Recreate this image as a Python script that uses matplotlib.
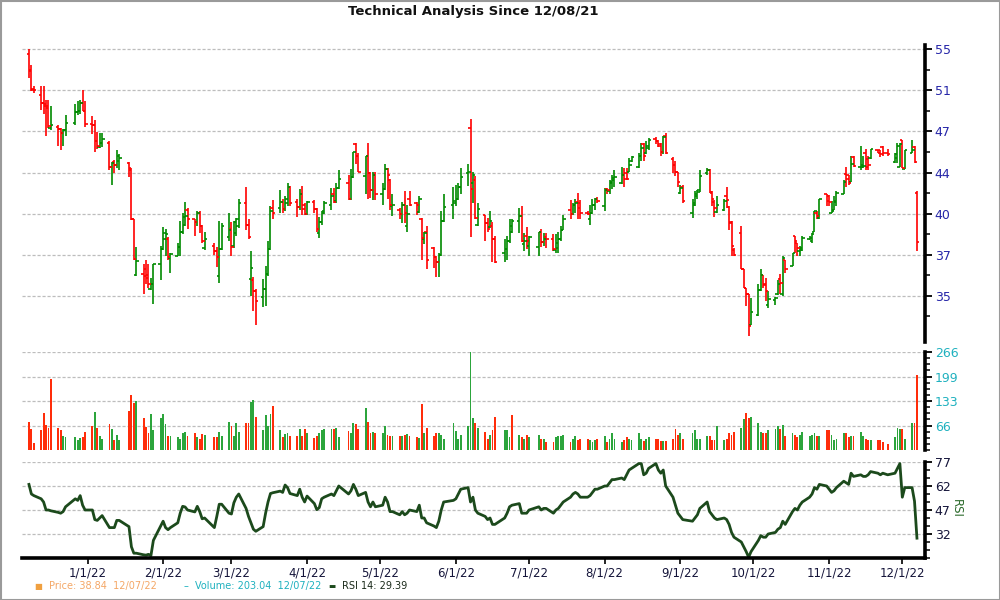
import matplotlib
matplotlib.use("Agg")
import matplotlib.pyplot as plt
import matplotlib.dates as mdates
from matplotlib.ticker import FixedLocator, NullFormatter, FixedFormatter
from matplotlib.patches import Rectangle
import numpy as np
import pandas as pd

title = "Technical Analysis Since 12/08/21"
start_date = "2021-12-08"
end_date = "2022-12-07"
last_date_label = "12/07/22"
holidays = ["2021-12-24", "2022-01-17", "2022-02-21", "2022-04-15", "2022-05-30",
            "2022-06-20", "2022-07-04", "2022-09-05", "2022-11-24"]

opens = [
    54.8, 53.2, 51.4, 50.8, 50.1, 50.0, 49.65, 47.85, 47.95, 47.8, 47.45, 47.7, 48.3, 49.25, 49.35, 50.1, 49.35,
    48.2, 48.15, 46.75, 46.25, 46.55, 46.6, 44.6, 44.95, 44.75, 45.1, 44.9, 44.35, 40.5, 36.6, 36.65, 36.95, 36.35, 35.65, 35.95, 37.3,
    38.35, 39.05, 39.05, 37.75, 37.9, 38.5, 39.55, 40.1, 41.2, 40.5, 40.3, 40.95, 40.0, 38.45, 38.6, 38.2, 36.5, 38.35, 39.2,
    39.8, 38.55, 39.5, 40.0, 41.75, 40.1, 36.3, 36.25, 35.55, 35.1, 35.65, 36.65, 38.35, 41.35, 41.35, 41.8, 41.3, 41.75, 43.0, 41.8, 41.4, 42.45, 41.6,
    40.9, 41.8, 41.3, 39.5, 40.3, 41.1, 41.6, 42.45, 41.85, 42.9, 43.3, 42.05, 43.75, 46.5, 45.45, 43.8, 45.45, 44.1, 42.75, 43.95,
    42.4, 42.8, 44.4, 43.55, 41.5, 41.2, 40.9, 41.55, 40.0, 42.0, 41.7, 41.05, 40.5, 39.05, 39.55, 38.45, 37.8, 37.45, 37.95, 40.35, 41.6,
    41.75, 42.05, 43.0, 44.1, 47.85, 43.3, 43.55, 40.1, 40.8, 40.25, 39.95, 40.0, 39.05, 38.1, 38.35, 38.9, 39.6, 40.35, 40.75, 38.7, 39.25,
    38.55, 38.5, 39.55, 38.85, 39.2, 39.05, 38.3, 38.45, 39.05, 39.75, 41.2, 40.9, 41.55, 41.8, 41.75, 41.0, 40.5, 40.95, 41.6, 42.05,
    41.5, 42.8, 42.65, 43.3, 43.55, 43.3, 43.95, 44.1, 44.2, 45.05, 44.6, 45.45, 46.45, 45.7, 46.15, 46.9, 46.7, 46.35, 45.8, 47.15, 45.25, 44.75, 44.15,
    42.5, 43.0, 41.0, 41.6, 42.3, 42.6, 44.05, 44.3, 42.5, 41.8, 41.05, 41.2, 42.3, 41.45, 40.3, 38.3, 39.5, 36.95, 35.7, 35.3, 33.4,
    34.0, 35.6, 36.6, 35.95, 34.6, 34.95, 35.3, 36.3, 35.3, 37.6, 37.2, 39.25, 38.8, 38.2, 38.3, 39.05, 38.9, 39.6, 41.0, 40.6, 42.4,
    42.3, 41.0, 41.2, 41.9, 42.45, 44.0, 43.9, 43.4, 45.4, 44.6, 44.55, 45.7, 45.2, 45.3, 46.0, 45.95, 46.2, 45.75, 45.0, 45.3, 44.6,
    46.85, 44.4, 45.7, 46.25, 42.5,
]
highs = [
    55.3, 53.7, 51.65, 51.65, 51.7, 50.4, 50.35, 49.8, 48.15, 47.9, 47.8, 49.05, 50.05, 50.25, 50.4, 51.35, 50.25,
    48.95, 48.6, 47.55, 47.45, 47.4, 46.7, 44.95, 45.15, 46.0, 45.6, 44.95, 44.5, 40.55, 38.5, 37.35, 37.6, 37.3, 36.4, 37.35, 38.6,
    39.95, 39.8, 39.2, 38.1, 38.8, 40.35, 41.0, 41.8, 41.35, 40.55, 41.15, 41.1, 40.1, 39.55, 38.75, 38.5, 40.35, 40.25, 40.95,
    40.3, 40.35, 40.6, 42.05, 43.0, 40.5, 38.2, 36.45, 35.65, 36.3, 37.15, 38.9, 41.5, 41.95, 42.75, 42.0, 42.3, 43.3, 43.05, 42.0, 42.8, 43.05, 41.7,
    41.85, 41.95, 41.35, 40.7, 41.1, 41.85, 42.9, 42.9, 43.3, 44.35, 43.95, 44.4, 45.85, 46.55, 45.7, 45.5, 46.55, 44.2, 44.15, 44.15,
    43.3, 44.85, 44.5, 43.6, 42.4, 41.35, 41.8, 42.65, 41.6, 42.65, 41.8, 42.3, 40.6, 39.6, 40.0, 38.5, 37.9, 38.1, 41.1, 42.45, 43.0,
    43.15, 43.3, 44.5, 44.85, 48.7, 44.2, 43.8, 41.7, 40.85, 40.6, 41.1, 40.3, 39.25, 39.1, 39.25, 40.55, 40.5, 41.35, 41.5, 39.5, 39.95,
    39.25, 39.6, 39.8, 39.5, 39.5, 39.4, 39.45, 39.55, 40.0, 40.8, 41.95, 41.75, 42.0, 42.5, 41.95, 41.15, 41.6, 42.0, 42.1, 42.2,
    42.9, 42.9, 43.55, 43.95, 44.35, 44.6, 44.5, 44.5, 45.3, 45.5, 45.7, 46.55, 46.55, 46.7, 47.0, 47.1, 46.85, 46.55, 47.2, 47.45, 45.4, 45.05, 44.2,
    43.15, 43.15, 42.05, 42.65, 42.75, 44.35, 44.5, 44.4, 42.65, 41.95, 42.25, 42.0, 43.0, 41.5, 40.35, 38.45, 40.0, 36.95, 35.7, 35.3, 35.05,
    36.0, 36.95, 36.6, 36.35, 35.55, 35.1, 36.25, 36.65, 37.85, 37.6, 38.1, 39.25, 38.8, 38.55, 39.25, 39.3, 39.5, 41.1, 41.1, 42.05, 42.4,
    42.35, 41.85, 42.25, 42.65, 43.55, 44.6, 43.95, 45.45, 45.45, 46.35, 45.45, 46.1, 45.45, 46.1, 46.0, 46.0, 46.3, 46.05, 45.7, 46.6, 46.6,
    46.85, 46.0, 46.8, 46.3, 42.65,
]
lows = [
    52.5, 51.2, 51.0, 49.5, 49.1, 47.2, 47.85, 47.7, 46.3, 45.95, 46.35, 47.15, 48.15, 49.05, 49.1, 49.35, 47.95,
    47.35, 45.85, 46.05, 46.15, 46.25, 44.35, 43.1, 44.1, 44.5, 44.35, 43.75, 40.45, 37.6, 36.5, 35.3, 35.95, 35.7, 35.6, 34.7, 36.25,
    38.3, 37.85, 37.6, 36.7, 37.85, 37.9, 39.45, 40.0, 39.8, 39.25, 40.0, 39.5, 38.8, 38.3, 37.95, 37.1, 36.05, 38.3, 38.9,
    37.9, 38.45, 39.25, 39.85, 39.75, 39.05, 35.2, 34.25, 33.35, 34.5, 34.55, 36.5, 38.3, 40.5, 40.95, 40.95, 41.1, 41.5, 41.5, 40.7, 41.2, 40.85, 40.8,
    40.85, 40.95, 39.55, 39.15, 40.1, 40.9, 41.2, 41.7, 41.75, 42.8, 41.95, 41.95, 43.7, 44.85, 44.15, 42.45, 42.05, 42.1, 41.95, 41.95,
    41.6, 42.7, 42.0, 41.2, 40.75, 40.55, 40.2, 40.25, 39.6, 41.5, 40.8, 40.95, 37.6, 38.7, 36.95, 37.05, 36.45, 36.45, 37.9, 40.3, 40.5,
    41.5, 41.95, 42.4, 43.05, 39.2, 41.75, 40.5, 40.0, 38.95, 39.6, 39.85, 37.45, 37.4, 37.45, 37.6, 38.8, 39.5, 39.5, 38.85, 38.2, 38.35,
    37.85, 37.9, 38.5, 38.55, 38.45, 38.2, 38.1, 38.1, 38.9, 39.7, 40.5, 40.85, 41.0, 40.5, 40.5, 40.85, 40.1, 40.9, 41.2, 41.75,
    41.15, 42.4, 42.4, 42.8, 43.0, 43.2, 43.0, 43.55, 44.15, 44.95, 44.5, 45.05, 45.1, 45.65, 46.0, 46.5, 46.25, 45.45, 45.65, 45.65, 44.1, 43.8, 43.0,
    42.4, 41.75, 40.6, 41.5, 42.0, 42.55, 43.95, 42.5, 41.5, 40.7, 40.95, 41.1, 41.35, 39.75, 37.85, 37.85, 36.95, 35.7, 34.55, 32.7, 33.35,
    33.9, 35.55, 35.7, 34.9, 34.45, 34.6, 35.25, 35.35, 35.2, 36.7, 37.15, 38.05, 37.85, 37.85, 38.25, 39.0, 38.8, 39.55, 40.5, 40.5, 41.5,
    41.5, 40.95, 41.2, 41.5, 42.4, 43.0, 43.15, 43.35, 44.6, 44.35, 44.5, 44.35, 44.35, 45.2, 45.7, 45.4, 45.45, 45.5, 44.9, 44.9, 44.6,
    44.45, 44.4, 45.7, 44.9, 38.2,
]
closes = [
    53.1, 51.3, 51.3, 50.1, 49.8, 49.8, 48.0, 48.15, 47.8, 47.4, 47.7, 48.3, 49.25, 49.35, 50.1, 49.35, 48.2,
    48.15, 46.75, 46.3, 46.55, 46.9, 44.6, 44.9, 44.75, 45.45, 45.3, 44.5, 40.5, 37.65, 37.5, 36.5, 36.55, 35.95, 35.95, 37.3, 38.35,
    39.5, 39.45, 37.8, 38.0, 38.5, 39.55, 40.7, 40.75, 40.5, 40.3, 40.95, 40.0, 38.9, 39.05, 38.2, 37.8, 38.35, 40.0, 39.75,
    38.5, 40.3, 40.5, 41.75, 40.1, 39.2, 37.05, 35.55, 34.9, 35.65, 36.65, 38.35, 41.1, 40.95, 41.8, 41.3, 42.05, 43.0, 41.75, 41.4, 42.45, 41.3, 40.9,
    41.8, 41.3, 39.8, 40.3, 40.95, 41.75, 42.25, 41.8, 42.9, 43.6, 42.05, 43.75, 45.8, 45.45, 44.2, 45.45, 44.1, 42.7, 43.95, 42.4,
    42.8, 44.4, 43.95, 41.6, 41.55, 40.9, 41.55, 40.95, 40.9, 41.55, 41.55, 42.05, 39.15, 39.5, 37.6, 37.8, 37.45, 37.95, 40.35, 41.45, 41.85,
    42.05, 43.0, 43.75, 44.2, 42.8, 43.95, 40.6, 41.25, 40.25, 39.8, 40.35, 39.05, 37.45, 38.35, 38.9, 40.0, 40.35, 40.75, 38.95, 38.95, 38.9,
    39.2, 39.55, 38.85, 39.05, 39.05, 38.35, 38.8, 39.05, 39.7, 40.5, 40.9, 41.55, 41.75, 41.35, 40.95, 40.9, 40.95, 41.6, 42.0, 41.9,
    42.7, 42.7, 43.4, 43.65, 43.75, 43.95, 43.6, 43.6, 44.75, 45.4, 45.45, 46.15, 45.5, 46.35, 46.85, 46.7, 46.5, 45.85, 47.1, 45.7, 44.75, 44.2, 43.4,
    42.9, 41.85, 41.75, 42.45, 42.75, 43.8, 44.3, 42.6, 42.0, 41.35, 41.6, 41.85, 41.95, 40.2, 38.55, 37.95, 36.95, 35.7, 35.3, 33.3, 34.15,
    35.6, 36.55, 35.9, 35.5, 35.0, 35.05, 35.95, 36.05, 37.75, 36.95, 38.05, 38.9, 38.4, 38.45, 39.15, 39.15, 39.4, 41.1, 40.75, 42.0, 41.9,
    41.8, 41.15, 41.8, 42.5, 43.4, 43.6, 43.3, 44.85, 44.65, 44.7, 44.62, 44.6, 44.75, 46.05, 45.72, 45.6, 45.72, 45.6, 45.6, 46.3, 46.5,
    44.5, 46.0, 46.0, 44.95, 38.84,
]
volumes = [
    77, 56, 20, 54, 101, 67, 61, 193, 59, 54, 37, 34, 34, 27, 32, 34, 50,
    65, 104, 61, 37, 31, 70, 56, 28, 40, 26, 107, 150, 128, 134, 88, 62, 45, 97, 55, 86,
    97, 70, 38, 37, 34, 31, 45, 50, 37, 45, 34, 30, 43, 40, 34, 34, 50, 38, 77,
    64, 37, 74, 50, 72, 72, 129, 137, 89, 53, 95, 65, 97, 120, 54, 34, 43, 47, 37, 37, 58, 37, 56,
    45, 33, 37, 47, 53, 56, 56, 56, 61, 34, 52, 47, 74, 70, 58, 115, 77, 45, 50, 45,
    45, 66, 42, 39, 39, 37, 37, 40, 43, 37, 34, 32, 125, 47, 61, 37, 45, 45, 42, 31, 72,
    52, 29, 40, 65, 265, 88, 72, 61, 50, 29, 41, 53, 90, 53, 53, 34, 94, 42, 35, 29, 42,
    34, 42, 31, 31, 23, 23, 34, 39, 39, 42, 23, 31, 39, 26, 31, 29, 26, 23, 26, 29,
    37, 23, 29, 47, 29, 23, 26, 34, 31, 26, 45, 29, 25, 29, 34, 31, 31, 25, 25, 25, 29, 56, 42,
    45, 31, 45, 53, 31, 30, 37, 37, 26, 26, 66, 26, 29, 45, 42, 50, 61, 85, 101, 88, 90,
    74, 50, 47, 45, 53, 58, 66, 58, 69, 39, 47, 42, 34, 42, 50, 37, 42, 47, 37, 39, 53,
    53, 42, 26, 31, 45, 45, 34, 39, 39, 50, 37, 31, 26, 26, 26, 26, 23, 15, 34, 61, 56,
    56, 30, 74, 72, 203.04,
]
volume_up_dates = ["2022-01-04", "2022-01-21", "2022-03-10", "2022-04-25", "2022-06-07",
                   "2022-09-26", "2022-09-27"]
volume_down_dates = ["2021-12-14", "2021-12-17", "2022-03-18", "2022-05-18", "2022-06-17",
                     "2022-06-24", "2022-09-28", "2022-09-29"]
rsi = [
    63, 57, 56, 54, 52, 47, 47, 46.5, 45.5, 45, 46, 49, 54, 53, 56, 50, 47,
    47, 41, 40.5, 42, 43.5, 36, 36, 36, 40.5, 40.5, 36.6, 24, 20, 20, 19, 18.8, 19.3, 18.5, 28, 37,
    40, 36, 34.7, 36, 39, 45, 49.3, 48.9, 47, 45.8, 49.3, 46, 41.5, 42, 36, 43, 50.6, 50.6, 45,
    44.5, 51.5, 55, 57, 48, 43, 39, 35, 33.7, 36.6, 45, 52, 57.3, 57.8, 58.8, 58, 62.6, 61, 57.3, 56, 60, 55, 52,
    55.7, 51, 47.2, 48.5, 54, 55, 57, 56, 59, 62, 57, 59, 63, 60, 56, 58, 52, 49, 52, 49,
    50, 55, 52, 46, 46, 44, 46, 44, 45, 47, 46, 50, 42, 42, 39, 37, 36, 40, 47, 52, 53,
    54, 57, 60, 61, 52, 55, 47, 45, 43, 41, 42, 38, 38, 42, 45, 49, 50, 51, 45, 45, 45,
    47, 49, 47, 48, 48, 45, 47, 48, 50, 52, 55, 57, 58, 57, 55, 55, 56, 58, 60, 60,
    62, 62, 64, 66, 66, 67, 66, 69, 72, 73, 76, 76, 69, 70, 73, 76, 72, 70, 72, 62, 55, 50, 45,
    43, 41, 40, 42, 44, 48, 52, 46, 44, 42, 41, 42, 41, 38, 33, 30, 27, 24, 21, 17.5, 21,
    28, 31, 30, 30, 32, 33, 35, 36, 40, 38, 46, 48, 47, 50, 52, 55, 57, 61, 60, 63, 62,
    60, 58, 59, 61, 65, 64, 63, 70, 68, 69, 68, 68, 69, 71, 70, 69, 70, 69, 70, 73, 76,
    55, 61, 61, 52.5, 29.39,
]
price_tick_labels = ["35", "37", "40", "44", "47", "51", "55"]
volume_tick_labels = ["66", "133", "199", "266"]
rsi_ticks = [32, 47, 62, 77]

# ---------------------------------------------------------------------------
dates = pd.bdate_range(start_date, end_date)
dates = dates[~dates.isin(pd.to_datetime(holidays))]
n = len(dates)
assert all(len(a) == n for a in (opens, highs, lows, closes, volumes, rsi)), \
    (n, len(opens), len(highs), len(lows), len(closes), len(volumes), len(rsi))

x = mdates.date2num(dates.to_pydatetime())
o = np.array(opens); h = np.array(highs); l = np.array(lows); c = np.array(closes)
up = c >= o

GREEN = "#008a00"
RED = "#ff0000"
VGREEN = "#2ca53c"
VRED = "#ff2d0a"
RSI_C = "#1c4a1c"
GRID_C = "#bdbdbd"

fig = plt.figure(figsize=(10, 6), dpi=100)
fig.patch.set_facecolor("white")
fig.patches.append(Rectangle((0.0005, 0.0008), 0.999, 0.998, transform=fig.transFigure,
                             fill=False, edgecolor="#9a9a9a", linewidth=1.5))

L, W = 0.022, 0.903
ax_p = fig.add_axes([L, 0.43, W, 0.495])
ax_v = fig.add_axes([L, 0.25, W, 0.1633])
ax_r = fig.add_axes([L, 0.07, W, 0.16])

xmin = mdates.date2num(pd.Timestamp(start_date)) - 2.85
xmax = mdates.date2num(pd.Timestamp(end_date)) + 3.3

def style_axis(ax, labelcolor, bottom=False):
    for s in ("left", "top"):
        ax.spines[s].set_visible(False)
    ax.spines["bottom"].set_visible(bottom)
    ax.spines["right"].set_linewidth(2.6)
    if bottom:
        ax.spines["bottom"].set_linewidth(2.6)
    ax.yaxis.tick_right()
    ax.tick_params(axis="y", which="major", direction="out", length=5, width=1.3,
                   labelsize=9, labelcolor=labelcolor, pad=2)
    ax.tick_params(axis="y", which="minor", direction="out", length=3.5, width=1.1)
    ax.set_xlim(xmin, xmax)
    ax.grid(axis="y", which="major", color=GRID_C, linestyle=(0, (2.5, 1.5)), linewidth=0.9)
    ax.set_axisbelow(True)

# ---- price panel (OHLC bars, log scale)
cols = np.where(up, GREEN, RED)
ax_p.vlines(x, l, h, colors=cols, linewidth=1.2)
ax_p.hlines(o, x - 1.0, x, colors=cols, linewidth=1.2)
ax_p.hlines(c, x, x + 1.0, colors=cols, linewidth=1.2)
ax_p.set_yscale("log")
t0, t6 = 35.2, 55.3
ratio = (t6 / t0) ** (1 / 6)
pticks = [t0 * ratio ** k for k in range(7)]
pminor = [t0 * ratio ** (k + 0.5) for k in range(-1, 7)]
ax_p.set_ylim(t0 / ratio ** 1.12, t6 * ratio ** 0.1)
ax_p.yaxis.set_major_locator(FixedLocator(pticks))
ax_p.yaxis.set_major_formatter(FixedFormatter(price_tick_labels))
ax_p.yaxis.set_minor_locator(FixedLocator(pminor))
ax_p.yaxis.set_minor_formatter(NullFormatter())
style_axis(ax_p, "#2525a8")
ax_p.tick_params(axis="x", which="both", bottom=False, labelbottom=False)
fig.text(0.4735, 1 - 11 / 600, title, ha="center", va="center",
         fontsize=9.5, fontweight="bold", color="#111111")

# ---- volume panel
vol_up = up.copy()
for d in volume_up_dates:
    vol_up[dates == pd.Timestamp(d)] = True
for d in volume_down_dates:
    vol_up[dates == pd.Timestamp(d)] = False
ax_v.bar(x, volumes, width=0.75, color=np.where(vol_up, VGREEN, VRED), linewidth=0)
vtop = float(volume_tick_labels[-1])
ax_v.set_ylim(0, vtop)
ax_v.yaxis.set_major_locator(FixedLocator([vtop * k / 4 for k in range(1, 5)]))
ax_v.yaxis.set_major_formatter(FixedFormatter(volume_tick_labels))
ax_v.yaxis.set_minor_locator(FixedLocator([vtop * k / 16 for k in range(0, 17)]))
style_axis(ax_v, "#1fb1bf")
ax_v.tick_params(axis="x", which="both", bottom=False, labelbottom=False)

# ---- RSI panel
ax_r.plot(x, rsi, color=RSI_C, linewidth=2.0, solid_joinstyle="round")
step = rsi_ticks[1] - rsi_ticks[0]
ax_r.set_ylim(rsi_ticks[0] - step, rsi_ticks[-1])
ax_r.yaxis.set_major_locator(FixedLocator(rsi_ticks))
ax_r.yaxis.set_minor_locator(FixedLocator(np.arange(rsi_ticks[0] - step, rsi_ticks[-1] + 0.1, 5)))
style_axis(ax_r, "#15153a", bottom=True)
month_starts = pd.date_range("2022-01-01", "2022-12-01", freq="MS")
ax_r.xaxis.set_major_locator(FixedLocator(mdates.date2num(month_starts.to_pydatetime())))
ax_r.xaxis.set_major_formatter(FixedFormatter([f"{d.month}/{d.day}/{d:%y}" for d in month_starts]))
ax_r.tick_params(axis="x", which="major", direction="out", length=4, width=1.2,
                 labelsize=8.5, labelcolor="#15153a", pad=2)
fig.text(0.956, 0.152, "RSI", rotation=270, ha="center", va="center", fontsize=8.5, color="#2b6a2b")

# ---- legend line
ly = 1 - 586 / 600
fig.text(0.034, ly, "\u25A0", color="#f0a040", fontsize=6, ha="left", va="center")
fig.text(0.049, ly, f"Price: {closes[-1]:.2f}  {last_date_label}", color="#f4a766",
         fontsize=7, ha="left", va="center")
fig.text(0.184, ly, "\u2013", color="#1fb1bf", fontsize=7, ha="left", va="center")
fig.text(0.195, ly, f"Volume: {volumes[-1]:.2f}  {last_date_label}", color="#1fb1bf",
         fontsize=7, ha="left", va="center")
fig.text(0.328, ly, "\u25AC", color=RSI_C, fontsize=5.5, ha="left", va="center")
fig.text(0.342, ly, f"RSI 14: {rsi[-1]:.2f}", color="#1a2a1a", fontsize=7, ha="left", va="center")

fig.savefig("out.png", dpi=100, facecolor="white")
